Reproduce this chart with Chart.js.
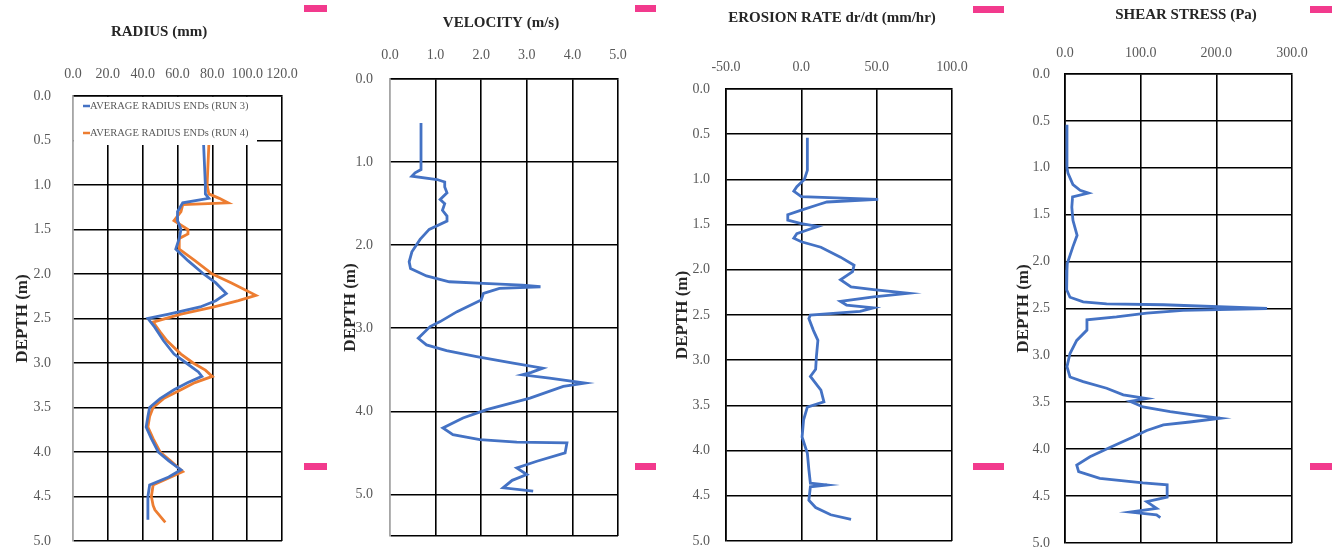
<!DOCTYPE html>
<html>
<head>
<meta charset="utf-8">
<script src="https://cdn.jsdelivr.net/npm/chart.js@4.4.1/dist/chart.umd.min.js"></script>
<style>
  html, body { margin: 0; padding: 0; background: #fff; width: 1332px; height: 547px; overflow: hidden; }
  canvas { position: absolute; top: 0; }
  .mark { position: absolute; height: 7px; background: #f23a8d; z-index: 2; }
</style>
</head>
<body>
<canvas id="radius" width="318" height="547" style="left:0px"></canvas>
<canvas id="velocity" width="342" height="547" style="left:330px"></canvas>
<canvas id="erosion" width="336" height="547" style="left:664px"></canvas>
<canvas id="shear" width="372" height="547" style="left:1000px"></canvas>

<div class="mark" style="left:304px;top:5px;width:23px"></div>
<div class="mark" style="left:304px;top:463px;width:23px"></div>
<div class="mark" style="left:635px;top:5px;width:21px"></div>
<div class="mark" style="left:635px;top:463px;width:21px"></div>
<div class="mark" style="left:973px;top:6px;width:31px"></div>
<div class="mark" style="left:973px;top:463px;width:31px"></div>
<div class="mark" style="left:1310px;top:6px;width:22px"></div>
<div class="mark" style="left:1310px;top:463px;width:22px"></div>

<script>
// depth (m) / value pairs
const radiusDepth3 = [0.55,1.00,1.10,1.15,1.20,1.30,1.40,1.50,1.60,1.72,1.85,2.00,2.10,2.22,2.30,2.37,2.45,2.50,2.60,2.75,2.90,3.00,3.10,3.15,3.22,3.30,3.40,3.50,3.60,3.72,3.85,4.00,4.10,4.20,4.28,4.37,4.50,4.60,4.70,4.76];
const radiusRun3   = [75,76,76,78,63,60,60,62,61,59,66,75,82,88,82,73,55,43,47,52,58,65,72,74,66,58,50,44,43,42,45,49,55,62,55,44,43,43,43,43];

const radiusDepth4 = [0.55,1.00,1.10,1.15,1.20,1.22,1.30,1.40,1.50,1.55,1.60,1.72,1.85,2.00,2.10,2.24,2.30,2.37,2.45,2.54,2.65,2.75,2.90,3.00,3.08,3.15,3.22,3.30,3.40,3.50,3.60,3.72,3.85,4.00,4.10,4.22,4.30,4.37,4.50,4.60,4.65,4.79];
const radiusRun4   = [78,77,78,84,89,63,62,58,66,66,61,61,70,80,91,105,95,81,62,46,50,54,62,69,76,80,70,62,52,46,44,43,46,50,56,63,54,46,45,46,47,53];

const velocityDepth = [0.53,1.09,1.13,1.17,1.21,1.24,1.30,1.37,1.45,1.50,1.58,1.65,1.71,1.81,1.93,2.08,2.20,2.28,2.37,2.44,2.46,2.48,2.50,2.52,2.58,2.66,2.80,2.92,2.98,3.12,3.20,3.27,3.34,3.42,3.48,3.53,3.56,3.60,3.66,3.70,3.84,3.98,4.08,4.20,4.28,4.34,4.37,4.38,4.50,4.60,4.68,4.76,4.83,4.92,4.96];
const velocity      = [0.68,0.68,0.55,0.48,1.03,1.20,1.20,1.25,1.10,1.20,1.15,1.25,1.25,0.86,0.66,0.48,0.42,0.45,0.80,1.30,2.05,2.90,3.30,2.40,2.05,2.00,1.47,1.10,0.88,0.62,0.80,1.24,1.90,2.70,3.35,3.10,2.90,3.50,4.28,3.80,3.07,2.12,1.60,1.16,1.38,1.97,2.78,3.88,3.84,3.22,2.78,3.00,2.68,2.48,3.14];

const erosionDepth = [0.54,0.90,1.00,1.08,1.13,1.19,1.22,1.25,1.28,1.34,1.39,1.45,1.49,1.52,1.56,1.60,1.65,1.69,1.75,1.86,1.95,2.02,2.11,2.19,2.22,2.26,2.30,2.35,2.39,2.42,2.46,2.50,2.54,2.67,2.78,2.96,3.10,3.18,3.33,3.46,3.52,3.66,3.85,4.03,4.21,4.36,4.38,4.40,4.55,4.63,4.71,4.76];
const erosion      = [4,4,2,-3,-5,0,51,17,11,0,-9,-9,0,11,4,-3,-5,0,13,26,35,34,26,33,48,71,48,26,30,48,39,6,5,8,11,10,9.5,6,13,15,4,1.5,0.5,4,5,6,17,6,5,9.5,19.5,33];

const shearDepth = [0.54,1.00,1.06,1.18,1.24,1.27,1.31,1.42,1.56,1.72,1.84,2.02,2.09,2.30,2.38,2.43,2.45,2.46,2.50,2.52,2.55,2.59,2.62,2.73,2.84,2.98,3.12,3.23,3.28,3.35,3.42,3.46,3.49,3.55,3.60,3.64,3.67,3.71,3.74,3.80,3.87,3.98,4.08,4.17,4.24,4.31,4.36,4.38,4.51,4.56,4.63,4.67,4.70,4.73];
const shear      = [2.6,2.6,4,10.5,20,31,10,9,10.5,16,10.5,3,2.6,2.2,6.6,24,55,130,267,156,108,68,29,29,15.5,6.6,2.6,6.6,24,55,77,108,86,103,139,174,205,165,130,108,90,60,33,15.5,18,46,103,135,135,108,121,86,121,126];

// axis ticks
const depthTicksHalf = [0,0.5,1,1.5,2,2.5,3,3.5,4,4.5,5];
const depthTicksOne  = [0,1,2,3,4,5,5.5];
const radiusTicks    = [0,20,40,60,80,100,120];
const velocityTicks  = [0,1,2,3,4,5];
const erosionTicks   = [-50,0,50,100];
const shearTicks     = [0,100,200,300];

const BLUE = '#4472c4';
const ORANGE = '#ed7d31';
Chart.defaults.font.family = '"Liberation Serif", "Times New Roman", serif';

function pts(depths, vals) {
  return depths.map((d, i) => ({ x: vals[i], y: d }));
}

function series(label, data, color) {
  return { label, data, borderColor: color, backgroundColor: color, borderWidth: 2.8,
           showLine: true, pointRadius: 0, tension: 0, fill: false };
}

// white legend box drawn inside the plot, like the spreadsheet one
const legendBox = {
  id: 'legendBox',
  beforeDatasetsDraw(chart) {
    const { ctx, chartArea: a } = chart;
    ctx.save();
    ctx.fillStyle = '#fff';
    ctx.fillRect(a.left + 1, a.top + 1, 183, 48);
    ctx.font = '10.5px "Liberation Serif"';
    ctx.textBaseline = 'middle';
    chart.data.datasets.forEach((ds, i) => {
      const y = a.top + 10 + i * 27;
      ctx.strokeStyle = ds.borderColor;
      ctx.lineWidth = 2.5;
      ctx.beginPath();
      ctx.moveTo(a.left + 10, y);
      ctx.lineTo(a.left + 17, y);
      ctx.stroke();
      ctx.fillStyle = '#595959';
      ctx.fillText(ds.label, a.left + 17, y);
    });
    ctx.restore();
  }
};

function makePanel(id, p) {
  const fixTicks = vals => s => { s.ticks = vals.map(v => ({ value: v })); };
  new Chart(document.getElementById(id), {
    type: 'scatter',
    data: { datasets: p.datasets },
    plugins: p.plugins || [],
    options: {
      responsive: false,
      animation: false,
      events: [],
      layout: { padding: { left: 0, right: 0, top: 0, bottom: p.bottomPad } },
      plugins: {
        legend: { display: false },
        tooltip: { enabled: false },
        title: {
          display: true, text: p.title, color: '#262626',
          font: { size: 15, weight: 'bold' },
          padding: { top: p.titleTop, bottom: 0 }
        }
      },
      scales: {
        x: {
          type: 'linear', position: 'top', min: p.xTicks[0], max: p.xTicks[p.xTicks.length - 1],
          afterBuildTicks: fixTicks(p.xTicks),
          afterFit: s => { s.height = p.xAxisH; s.paddingLeft = 0; s.paddingRight = 0; },
          ticks: { autoSkip: false, maxRotation: 0, padding: p.xTickPad, color: '#595959',
                   font: { size: 14 }, callback: v => v.toFixed(1) },
          grid: { drawTicks: false, lineWidth: 1.6,
                  color: c => (c.index === 0 ? p.leftColor : '#000') },
          border: { color: '#000', width: 1.6 }
        },
        y: {
          type: 'linear', position: 'left', reverse: true, min: 0, max: p.yTicks[p.yTicks.length - 1],
          afterBuildTicks: fixTicks(p.yTicks),
          afterFit: s => { s.width = p.yAxisW; s.paddingTop = 0; s.paddingBottom = 0; },
          ticks: { autoSkip: false, padding: p.yTickPad, color: '#595959', font: { size: 14 },
                   callback: v => (v > 5 ? '' : v.toFixed(1)) },
          grid: { drawTicks: false, lineWidth: 1.6, color: '#000' },
          border: { color: p.leftColor, width: 1.6 },
          title: { display: true, text: 'DEPTH (m)', color: '#262626',
                   font: { size: 17, weight: 'bold' }, padding: { top: p.yTitlePad, bottom: 0 } }
        },
        spare: {
          type: 'linear', position: 'right', display: true,
          ticks: { display: false }, grid: { display: false }, border: { display: false },
          afterFit: s => { s.width = p.rightW; s.paddingTop = 0; s.paddingBottom = 0; }
        }
      }
    }
  });
}

makePanel('radius', {
  title: 'RADIUS (mm)', titleTop: 23, xAxisH: 55, xTickPad: 13,
  yAxisW: 73, yTickPad: 22, yTitlePad: 12, rightW: 36, bottomPad: 6,
  xTicks: radiusTicks, yTicks: depthTicksHalf, leftColor: '#a6a6a6',
  datasets: [
    series('AVERAGE RADIUS ENDs (RUN 3)', pts(radiusDepth3, radiusRun3), BLUE),
    series('AVERAGE RADIUS ENDs (RUN 4)', pts(radiusDepth4, radiusRun4), ORANGE)
  ],
  plugins: [legendBox]
});

makePanel('velocity', {
  title: 'VELOCITY (m/s)', titleTop: 14, xAxisH: 47, xTickPad: 15,
  yAxisW: 60, yTickPad: 17, yTitlePad: 10, rightW: 54, bottomPad: 11,
  xTicks: velocityTicks, yTicks: depthTicksOne, leftColor: '#a6a6a6',
  datasets: [series('VELOCITY', pts(velocityDepth, velocity), BLUE)]
});

makePanel('erosion', {
  title: 'EROSION RATE dr/dt (mm/hr)', titleTop: 9, xAxisH: 62, xTickPad: 13,
  yAxisW: 62, yTickPad: 16, yTitlePad: 8, rightW: 48, bottomPad: 6,
  xTicks: erosionTicks, yTicks: depthTicksHalf, leftColor: '#000',
  datasets: [series('EROSION RATE', pts(erosionDepth, erosion), BLUE)]
});

makePanel('shear', {
  title: 'SHEAR STRESS (Pa)', titleTop: 6, xAxisH: 50, xTickPad: 12,
  yAxisW: 65, yTickPad: 15, yTitlePad: 13, rightW: 80, bottomPad: 4,
  xTicks: shearTicks, yTicks: depthTicksHalf, leftColor: '#000',
  datasets: [series('SHEAR STRESS', pts(shearDepth, shear), BLUE)]
});
</script>
</body>
</html>
